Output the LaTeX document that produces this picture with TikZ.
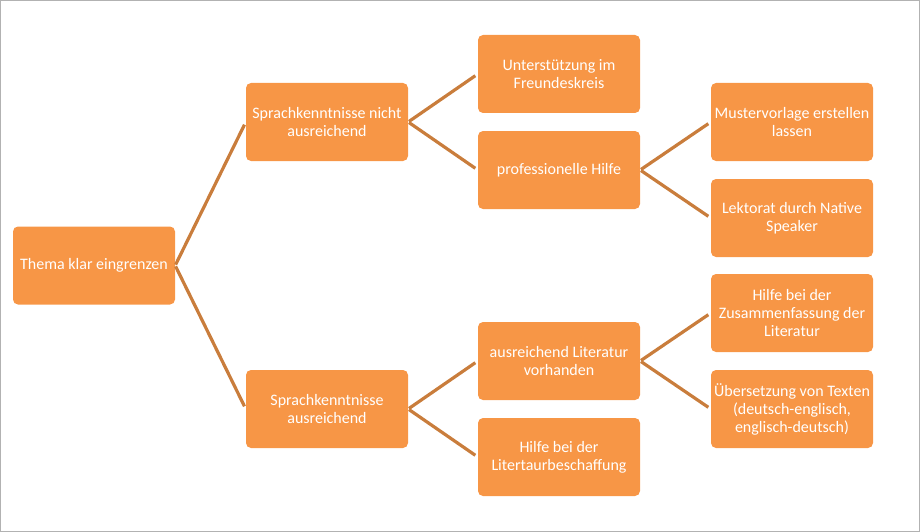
\documentclass[tikz,border=0pt]{standalone}
\usepackage{fontspec}
\setmainfont{Carlito}
\definecolor{boxorange}{RGB}{247,150,70}
\definecolor{linkorange}{RGB}{201,125,60}
\begin{document}
\begin{tikzpicture}[x=1pt,y=-1pt,
	box/.style={fill=boxorange,rounded corners=5pt,minimum width=162pt,minimum height=78pt,inner sep=2pt,align=center,text=white,font=\fontsize{16}{18}\selectfont},
	link/.style={linkorange,line width=3.2pt,shorten >=3pt,shorten <=1pt}]
	\useasboundingbox (0,0) rectangle (920,532);
	\draw[black!30] (0.5,0.5) rectangle (919.5,531.5);

	\node[box] at (94,265.5) (thema) {Thema klar eingrenzen};
	\node[box] at (327,122) (nicht) {Sprachkenntnisse nicht\\ausreichend};
	\node[box] at (327,409) (ausr) {Sprachkenntnisse\\ausreichend};
	\node[box] at (559,74) (freunde) {Unterstützung im\\Freundeskreis};
	\node[box] at (559,170) (profi) {professionelle Hilfe};
	\node[box] at (559,361) (literatur) {ausreichend Literatur\\vorhanden};
	\node[box] at (559,457) (beschaff) {Hilfe bei der\\Litertaurbeschaffung};
	\node[box] at (792,122) (muster) {Mustervorlage erstellen\\lassen};
	\node[box] at (792,218) (lektorat) {Lektorat durch Native\\Speaker};
	\node[box] at (792,313) (zusammen) {Hilfe bei der\\Zusammenfassung der\\Literatur};
	\node[box] at (792,409) (uebers) {Übersetzung von Texten\\(deutsch-englisch,\\englisch-deutsch)};

	\draw[link]	(thema.east) -- (nicht.west);
	\draw[link]	(thema.east) -- (ausr.west);
	\draw[link]	(nicht.east) -- (freunde.west);
	\draw[link]	(nicht.east) -- (profi.west);
	\draw[link]	(profi.east) -- (muster.west);
	\draw[link]	(profi.east) -- (lektorat.west);
	\draw[link]	(ausr.east) -- (literatur.west);
	\draw[link]	(ausr.east) -- (beschaff.west);
	\draw[link]	(literatur.east) -- (zusammen.west);
	\draw[link]	(literatur.east) -- (uebers.west);
\end{tikzpicture}
\end{document}
